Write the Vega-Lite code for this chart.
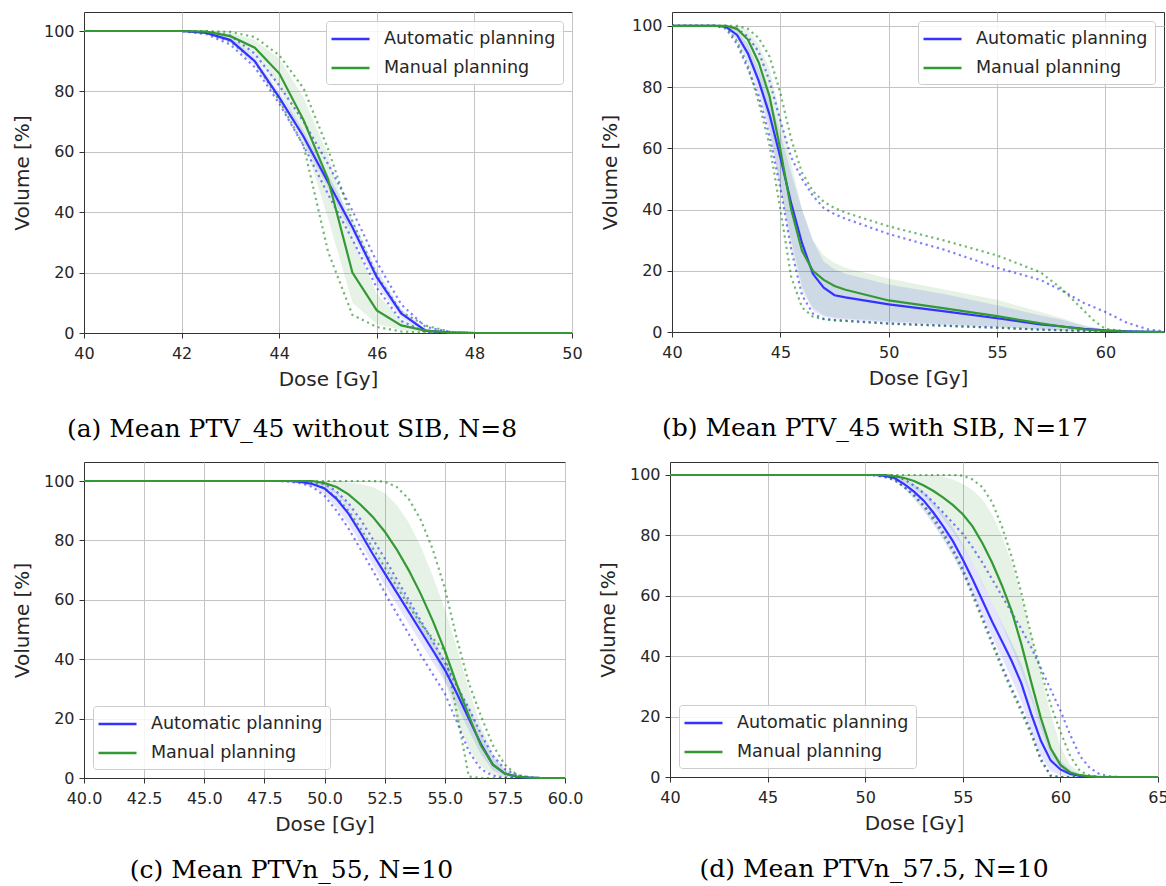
{
"$schema": "https://vega.github.io/schema/vega-lite/v6.json",
"usermeta": {"embedOptions": {"actions": false}},
"padding": {"left": 11, "top": 11, "right": 0, "bottom": 0},
"background": "white",
"spacing": 18,
"resolve": {"scale": {"color": "independent"}},
"datasets": {
"a": [
{"d":40,"p":"Automatic planning","m":100,"lo":100,"hi":100,"mn":100,"mx":100},
{"d":42,"p":"Automatic planning","m":100,"lo":100,"hi":100,"mn":100,"mx":100},
{"d":42.5,"p":"Automatic planning","m":99.4,"lo":99,"hi":99.8,"mn":99,"mx":99.8},
{"d":43,"p":"Automatic planning","m":97,"lo":96,"hi":98,"mn":95.5,"mx":98.5},
{"d":43.5,"p":"Automatic planning","m":90,"lo":88.5,"hi":91.5,"mn":88,"mx":92.5},
{"d":44,"p":"Automatic planning","m":78,"lo":76.5,"hi":80,"mn":76,"mx":82},
{"d":44.5,"p":"Automatic planning","m":65,"lo":63,"hi":67,"mn":62,"mx":70},
{"d":45,"p":"Automatic planning","m":50,"lo":48,"hi":52.5,"mn":46,"mx":56},
{"d":45.5,"p":"Automatic planning","m":35,"lo":32.5,"hi":37.5,"mn":31,"mx":40.5},
{"d":46,"p":"Automatic planning","m":18.5,"lo":16,"hi":21,"mn":15,"mx":23.5},
{"d":46.5,"p":"Automatic planning","m":6.5,"lo":5,"hi":8,"mn":4,"mx":9.5},
{"d":47,"p":"Automatic planning","m":0.8,"lo":0.5,"hi":1.2,"mn":0.3,"mx":2},
{"d":47.5,"p":"Automatic planning","m":0.1,"lo":0,"hi":0.2,"mn":0,"mx":0.4},
{"d":48,"p":"Automatic planning","m":0,"lo":0,"hi":0,"mn":0,"mx":0},
{"d":50,"p":"Automatic planning","m":0,"lo":0,"hi":0,"mn":0,"mx":0},
{"d":40,"p":"Manual planning","m":100,"lo":100,"hi":100,"mn":100,"mx":100},
{"d":42,"p":"Manual planning","m":100,"lo":100,"hi":100,"mn":100,"mx":100},
{"d":42.5,"p":"Manual planning","m":99.8,"lo":99.5,"hi":100,"mn":99.5,"mx":100},
{"d":43,"p":"Manual planning","m":98.3,"lo":97,"hi":99.5,"mn":96.5,"mx":99.7},
{"d":43.5,"p":"Manual planning","m":94.5,"lo":91.5,"hi":97,"mn":90,"mx":98},
{"d":44,"p":"Manual planning","m":86,"lo":81,"hi":91,"mn":77,"mx":92},
{"d":44.5,"p":"Manual planning","m":70.5,"lo":64,"hi":78,"mn":62,"mx":81},
{"d":45,"p":"Manual planning","m":51,"lo":38,"hi":59,"mn":27,"mx":61},
{"d":45.5,"p":"Manual planning","m":20,"lo":10,"hi":32,"mn":6,"mx":37},
{"d":46,"p":"Manual planning","m":7.5,"lo":3,"hi":13,"mn":2,"mx":19},
{"d":46.5,"p":"Manual planning","m":2.5,"lo":1,"hi":4.5,"mn":0.5,"mx":7},
{"d":47,"p":"Manual planning","m":0.8,"lo":0.2,"hi":1.5,"mn":0.1,"mx":2.5},
{"d":47.5,"p":"Manual planning","m":0.1,"lo":0,"hi":0.3,"mn":0,"mx":0.4},
{"d":48,"p":"Manual planning","m":0,"lo":0,"hi":0,"mn":0,"mx":0},
{"d":50,"p":"Manual planning","m":0,"lo":0,"hi":0,"mn":0,"mx":0}
],
"b": [
{"d":40,"p":"Automatic planning","m":100,"lo":100,"hi":100,"mn":100,"mx":100},
{"d":42,"p":"Automatic planning","m":100,"lo":100,"hi":100,"mn":100,"mx":100},
{"d":42.5,"p":"Automatic planning","m":99.6,"lo":99.3,"hi":100,"mn":99,"mx":100},
{"d":43,"p":"Automatic planning","m":97,"lo":95,"hi":98.5,"mn":94,"mx":99},
{"d":43.5,"p":"Automatic planning","m":91,"lo":88,"hi":94,"mn":86,"mx":96.5},
{"d":44,"p":"Automatic planning","m":82,"lo":78,"hi":86,"mn":77,"mx":91.5},
{"d":44.5,"p":"Automatic planning","m":71,"lo":65,"hi":77,"mn":64,"mx":82},
{"d":45,"p":"Automatic planning","m":57,"lo":47,"hi":65,"mn":47,"mx":69},
{"d":45.5,"p":"Automatic planning","m":42,"lo":30,"hi":52,"mn":27,"mx":57},
{"d":46,"p":"Automatic planning","m":29,"lo":15,"hi":40,"mn":12,"mx":50},
{"d":46.5,"p":"Automatic planning","m":19,"lo":7,"hi":30,"mn":6,"mx":44.5},
{"d":47,"p":"Automatic planning","m":14.5,"lo":5,"hi":23,"mn":4.3,"mx":40.5},
{"d":47.5,"p":"Automatic planning","m":12,"lo":4.3,"hi":20.5,"mn":3.9,"mx":38.5},
{"d":48,"p":"Automatic planning","m":11.3,"lo":4,"hi":19,"mn":3.7,"mx":37},
{"d":50,"p":"Automatic planning","m":9,"lo":3,"hi":15.5,"mn":2.8,"mx":32},
{"d":52.5,"p":"Automatic planning","m":6.8,"lo":2.2,"hi":12.5,"mn":2.1,"mx":27},
{"d":55,"p":"Automatic planning","m":4.5,"lo":1.5,"hi":8.7,"mn":1.4,"mx":21},
{"d":57,"p":"Automatic planning","m":2.5,"lo":0.8,"hi":5.5,"mn":0.8,"mx":17},
{"d":58,"p":"Automatic planning","m":1.8,"lo":0.5,"hi":4,"mn":0.6,"mx":13.5},
{"d":59,"p":"Automatic planning","m":1,"lo":0.3,"hi":2,"mn":0.4,"mx":9.5},
{"d":60,"p":"Automatic planning","m":0.5,"lo":0.1,"hi":0.8,"mn":0.2,"mx":6.5},
{"d":61,"p":"Automatic planning","m":0.2,"lo":0,"hi":0.3,"mn":0.1,"mx":3},
{"d":62,"p":"Automatic planning","m":0.05,"lo":0,"hi":0.1,"mn":0,"mx":0.8},
{"d":62.7,"p":"Automatic planning","m":0,"lo":0,"hi":0,"mn":0,"mx":0.2},
{"d":40,"p":"Manual planning","m":100,"lo":100,"hi":100,"mn":100,"mx":100},
{"d":42,"p":"Manual planning","m":100,"lo":100,"hi":100,"mn":100,"mx":100},
{"d":42.5,"p":"Manual planning","m":100,"lo":99.7,"hi":100,"mn":99.5,"mx":100},
{"d":43,"p":"Manual planning","m":99,"lo":97.5,"hi":100,"mn":95,"mx":100},
{"d":43.5,"p":"Manual planning","m":95.5,"lo":92,"hi":98.5,"mn":87,"mx":99},
{"d":44,"p":"Manual planning","m":88,"lo":81,"hi":94,"mn":75,"mx":96},
{"d":44.5,"p":"Manual planning","m":77,"lo":67,"hi":86,"mn":61,"mx":90},
{"d":45,"p":"Manual planning","m":59.5,"lo":47,"hi":71,"mn":40,"mx":78},
{"d":45.5,"p":"Manual planning","m":40,"lo":27,"hi":55,"mn":18,"mx":63},
{"d":46,"p":"Manual planning","m":26.5,"lo":13,"hi":40,"mn":8,"mx":52},
{"d":46.5,"p":"Manual planning","m":20,"lo":8,"hi":30,"mn":5,"mx":46},
{"d":47,"p":"Manual planning","m":17,"lo":5.5,"hi":25,"mn":4.2,"mx":42.5},
{"d":47.5,"p":"Manual planning","m":15,"lo":4.7,"hi":22.5,"mn":3.8,"mx":40.5},
{"d":48,"p":"Manual planning","m":13.8,"lo":4.4,"hi":21,"mn":3.6,"mx":39},
{"d":50,"p":"Manual planning","m":10.3,"lo":3.5,"hi":17.5,"mn":2.7,"mx":34.5},
{"d":52.5,"p":"Manual planning","m":7.8,"lo":2.6,"hi":14,"mn":2,"mx":30},
{"d":55,"p":"Manual planning","m":5.2,"lo":1.8,"hi":10.5,"mn":1.4,"mx":25},
{"d":57,"p":"Manual planning","m":2.8,"lo":0.8,"hi":6.5,"mn":0.7,"mx":19.5},
{"d":58,"p":"Manual planning","m":1.8,"lo":0.5,"hi":4.5,"mn":0.5,"mx":14},
{"d":59,"p":"Manual planning","m":0.9,"lo":0.2,"hi":2.3,"mn":0.3,"mx":7},
{"d":59.5,"p":"Manual planning","m":0.6,"lo":0.1,"hi":1.5,"mn":0.2,"mx":3.5},
{"d":60,"p":"Manual planning","m":0.4,"lo":0.1,"hi":0.8,"mn":0.1,"mx":1},
{"d":61,"p":"Manual planning","m":0.1,"lo":0,"hi":0.2,"mn":0,"mx":0.2},
{"d":62.7,"p":"Manual planning","m":0,"lo":0,"hi":0,"mn":0,"mx":0}
],
"c": [
{"d":40,"p":"Automatic planning","m":100,"lo":100,"hi":100,"mn":100,"mx":100},
{"d":48,"p":"Automatic planning","m":100,"lo":100,"hi":100,"mn":100,"mx":100},
{"d":48.5,"p":"Automatic planning","m":100,"lo":100,"hi":100,"mn":99.8,"mx":100},
{"d":49,"p":"Automatic planning","m":99.7,"lo":99.3,"hi":100,"mn":99.3,"mx":100},
{"d":49.5,"p":"Automatic planning","m":99,"lo":98,"hi":99.8,"mn":98,"mx":99.8},
{"d":50,"p":"Automatic planning","m":97.5,"lo":95.5,"hi":99,"mn":95,"mx":99},
{"d":50.5,"p":"Automatic planning","m":94,"lo":91,"hi":96.5,"mn":90,"mx":96.5},
{"d":51,"p":"Automatic planning","m":89,"lo":85.5,"hi":92,"mn":84,"mx":92.5},
{"d":51.5,"p":"Automatic planning","m":82.5,"lo":79,"hi":86,"mn":77,"mx":87},
{"d":52,"p":"Automatic planning","m":75.5,"lo":72,"hi":79,"mn":70,"mx":80.5},
{"d":52.5,"p":"Automatic planning","m":69,"lo":65,"hi":72.5,"mn":62.5,"mx":74},
{"d":53,"p":"Automatic planning","m":62.5,"lo":58.5,"hi":66,"mn":55.5,"mx":67},
{"d":53.5,"p":"Automatic planning","m":56,"lo":52,"hi":59.5,"mn":48.5,"mx":60},
{"d":54,"p":"Automatic planning","m":49.5,"lo":45.5,"hi":53,"mn":41.5,"mx":53},
{"d":54.5,"p":"Automatic planning","m":43,"lo":39,"hi":46.5,"mn":35,"mx":46},
{"d":55,"p":"Automatic planning","m":36.5,"lo":32.5,"hi":40,"mn":28.5,"mx":39},
{"d":55.5,"p":"Automatic planning","m":28.5,"lo":24.5,"hi":32,"mn":19,"mx":31},
{"d":56,"p":"Automatic planning","m":20,"lo":16,"hi":24,"mn":9,"mx":23.5},
{"d":56.5,"p":"Automatic planning","m":11.5,"lo":8,"hi":15,"mn":3,"mx":15},
{"d":57,"p":"Automatic planning","m":4.5,"lo":2.5,"hi":7,"mn":0.8,"mx":7.5},
{"d":57.5,"p":"Automatic planning","m":1.5,"lo":0.6,"hi":2.5,"mn":0.2,"mx":3},
{"d":58,"p":"Automatic planning","m":0.4,"lo":0.1,"hi":0.8,"mn":0,"mx":1},
{"d":58.5,"p":"Automatic planning","m":0.1,"lo":0,"hi":0.2,"mn":0,"mx":0.3},
{"d":59,"p":"Automatic planning","m":0,"lo":0,"hi":0,"mn":0,"mx":0},
{"d":60,"p":"Automatic planning","m":0,"lo":0,"hi":0,"mn":0,"mx":0},
{"d":40,"p":"Manual planning","m":100,"lo":100,"hi":100,"mn":100,"mx":100},
{"d":49,"p":"Manual planning","m":100,"lo":100,"hi":100,"mn":100,"mx":100},
{"d":49.5,"p":"Manual planning","m":100,"lo":99.7,"hi":100,"mn":99.5,"mx":100},
{"d":50,"p":"Manual planning","m":99.3,"lo":98,"hi":100,"mn":97.5,"mx":100},
{"d":50.5,"p":"Manual planning","m":98,"lo":95.5,"hi":100,"mn":94.5,"mx":100},
{"d":51,"p":"Manual planning","m":95.5,"lo":91.5,"hi":99.5,"mn":90,"mx":100},
{"d":51.5,"p":"Manual planning","m":92,"lo":86,"hi":99,"mn":84,"mx":100},
{"d":52,"p":"Manual planning","m":88,"lo":79.5,"hi":98,"mn":77.5,"mx":100},
{"d":52.5,"p":"Manual planning","m":83,"lo":72,"hi":96,"mn":71,"mx":99.8},
{"d":53,"p":"Manual planning","m":77,"lo":65,"hi":92,"mn":64.5,"mx":98},
{"d":53.5,"p":"Manual planning","m":70,"lo":58,"hi":86,"mn":58,"mx":94},
{"d":54,"p":"Manual planning","m":62,"lo":50,"hi":78,"mn":52,"mx":87},
{"d":54.5,"p":"Manual planning","m":53,"lo":43,"hi":68,"mn":47,"mx":77},
{"d":55,"p":"Manual planning","m":43,"lo":33,"hi":57,"mn":43,"mx":64},
{"d":55.5,"p":"Manual planning","m":31.5,"lo":20,"hi":44,"mn":22,"mx":47},
{"d":56,"p":"Manual planning","m":21,"lo":10,"hi":30,"mn":0.5,"mx":32},
{"d":56.5,"p":"Manual planning","m":11,"lo":4,"hi":17.5,"mn":0,"mx":21},
{"d":57,"p":"Manual planning","m":4.5,"lo":1,"hi":8.5,"mn":0,"mx":11},
{"d":57.5,"p":"Manual planning","m":1.5,"lo":0.2,"hi":3,"mn":0,"mx":4.5},
{"d":58,"p":"Manual planning","m":0.5,"lo":0,"hi":1,"mn":0,"mx":1},
{"d":58.5,"p":"Manual planning","m":0.1,"lo":0,"hi":0.2,"mn":0,"mx":0.2},
{"d":59,"p":"Manual planning","m":0,"lo":0,"hi":0,"mn":0,"mx":0},
{"d":60,"p":"Manual planning","m":0,"lo":0,"hi":0,"mn":0,"mx":0}
],
"dd": [
{"d":40,"p":"Automatic planning","m":100,"lo":100,"hi":100,"mn":100,"mx":100},
{"d":50,"p":"Automatic planning","m":100,"lo":100,"hi":100,"mn":100,"mx":100},
{"d":50.5,"p":"Automatic planning","m":100,"lo":99.8,"hi":100,"mn":99.8,"mx":100},
{"d":51,"p":"Automatic planning","m":99.7,"lo":99.2,"hi":100,"mn":99.3,"mx":100},
{"d":51.5,"p":"Automatic planning","m":99,"lo":98,"hi":99.8,"mn":98.3,"mx":99.7},
{"d":52,"p":"Automatic planning","m":97,"lo":95.5,"hi":98.5,"mn":96,"mx":98.5},
{"d":52.5,"p":"Automatic planning","m":94.5,"lo":92,"hi":97,"mn":93.5,"mx":96.5},
{"d":53,"p":"Automatic planning","m":91.5,"lo":88,"hi":94.5,"mn":90,"mx":94},
{"d":53.5,"p":"Automatic planning","m":87.5,"lo":83.5,"hi":91,"mn":86,"mx":91},
{"d":54,"p":"Automatic planning","m":83,"lo":78.5,"hi":87,"mn":81,"mx":87.5},
{"d":54.5,"p":"Automatic planning","m":78,"lo":73,"hi":82.5,"mn":75.5,"mx":84},
{"d":55,"p":"Automatic planning","m":72,"lo":67,"hi":77,"mn":69,"mx":80.5},
{"d":55.5,"p":"Automatic planning","m":65.5,"lo":60.5,"hi":71,"mn":61,"mx":76},
{"d":56,"p":"Automatic planning","m":58.5,"lo":53.5,"hi":64.5,"mn":53,"mx":71},
{"d":56.5,"p":"Automatic planning","m":51.5,"lo":46.5,"hi":57.5,"mn":45,"mx":65.5},
{"d":57,"p":"Automatic planning","m":45,"lo":39.5,"hi":51,"mn":37,"mx":60},
{"d":57.5,"p":"Automatic planning","m":38.5,"lo":32.5,"hi":44.5,"mn":29.5,"mx":54.5},
{"d":58,"p":"Automatic planning","m":31,"lo":25,"hi":37.5,"mn":22.5,"mx":49},
{"d":58.5,"p":"Automatic planning","m":21,"lo":15,"hi":28,"mn":15,"mx":43},
{"d":59,"p":"Automatic planning","m":12,"lo":7,"hi":18,"mn":6,"mx":36},
{"d":59.5,"p":"Automatic planning","m":5.5,"lo":2,"hi":10,"mn":0.5,"mx":29},
{"d":60,"p":"Automatic planning","m":2.5,"lo":0.5,"hi":5.5,"mn":0,"mx":22},
{"d":60.5,"p":"Automatic planning","m":1,"lo":0.1,"hi":2.5,"mn":0,"mx":14},
{"d":61,"p":"Automatic planning","m":0.4,"lo":0,"hi":1,"mn":0,"mx":7},
{"d":61.5,"p":"Automatic planning","m":0.1,"lo":0,"hi":0.3,"mn":0,"mx":3},
{"d":62,"p":"Automatic planning","m":0,"lo":0,"hi":0.1,"mn":0,"mx":1},
{"d":62.5,"p":"Automatic planning","m":0,"lo":0,"hi":0,"mn":0,"mx":0.3},
{"d":63,"p":"Automatic planning","m":0,"lo":0,"hi":0,"mn":0,"mx":0},
{"d":65,"p":"Automatic planning","m":0,"lo":0,"hi":0,"mn":0,"mx":0},
{"d":40,"p":"Manual planning","m":100,"lo":100,"hi":100,"mn":100,"mx":100},
{"d":50.5,"p":"Manual planning","m":100,"lo":100,"hi":100,"mn":100,"mx":100},
{"d":51,"p":"Manual planning","m":100,"lo":99.8,"hi":100,"mn":99.5,"mx":100},
{"d":51.5,"p":"Manual planning","m":99.6,"lo":99,"hi":100,"mn":98.5,"mx":100},
{"d":52,"p":"Manual planning","m":99,"lo":97.5,"hi":100,"mn":96,"mx":100},
{"d":52.5,"p":"Manual planning","m":98,"lo":95.5,"hi":100,"mn":93,"mx":100},
{"d":53,"p":"Manual planning","m":96.5,"lo":93,"hi":100,"mn":89.5,"mx":100},
{"d":53.5,"p":"Manual planning","m":94.7,"lo":89.5,"hi":99.8,"mn":85,"mx":100},
{"d":54,"p":"Manual planning","m":92.5,"lo":85.5,"hi":99.5,"mn":80,"mx":100},
{"d":54.5,"p":"Manual planning","m":90,"lo":81,"hi":98.5,"mn":74.5,"mx":100},
{"d":55,"p":"Manual planning","m":87,"lo":76.5,"hi":97,"mn":68,"mx":99.8},
{"d":55.5,"p":"Manual planning","m":83,"lo":71,"hi":95,"mn":60,"mx":98.5},
{"d":56,"p":"Manual planning","m":77.5,"lo":64,"hi":92,"mn":52,"mx":96},
{"d":56.5,"p":"Manual planning","m":71,"lo":57.5,"hi":87,"mn":44,"mx":91},
{"d":57,"p":"Manual planning","m":63.5,"lo":50.5,"hi":80,"mn":36,"mx":83},
{"d":57.5,"p":"Manual planning","m":55,"lo":43,"hi":71,"mn":28.5,"mx":73},
{"d":58,"p":"Manual planning","m":44,"lo":35,"hi":60,"mn":21.5,"mx":61},
{"d":58.5,"p":"Manual planning","m":31.5,"lo":26,"hi":47,"mn":14,"mx":47},
{"d":59,"p":"Manual planning","m":19.5,"lo":16,"hi":34,"mn":5.5,"mx":35},
{"d":59.5,"p":"Manual planning","m":9.5,"lo":7,"hi":21,"mn":0.3,"mx":24},
{"d":60,"p":"Manual planning","m":4,"lo":2.5,"hi":10,"mn":0,"mx":15},
{"d":60.5,"p":"Manual planning","m":1.5,"lo":0.8,"hi":4,"mn":0,"mx":7},
{"d":61,"p":"Manual planning","m":0.6,"lo":0.2,"hi":1.5,"mn":0,"mx":2},
{"d":61.5,"p":"Manual planning","m":0.2,"lo":0,"hi":0.5,"mn":0,"mx":0.5},
{"d":62,"p":"Manual planning","m":0,"lo":0,"hi":0.1,"mn":0,"mx":0.1},
{"d":63,"p":"Manual planning","m":0,"lo":0,"hi":0,"mn":0,"mx":0},
{"d":65,"p":"Manual planning","m":0,"lo":0,"hi":0,"mn":0,"mx":0}
]
},
"vconcat": [
{"hconcat": [
{"width": 488, "height": 321, "data": {"name": "a"},
 "title": {"text": "(a) Mean PTV_45 without SIB, N=8", "dx": -36, "offset": 28},
 "encoding": {"x": {"field": "d", "type": "quantitative", "title": "Dose [Gy]", "scale": {"domain": [40, 50], "nice": false, "zero": false}, "axis": {"values": [40, 42, 44, 46, 48, 50]}}},
 "layer": [
  {"transform": [{"filter": {"field": "p", "equal": "Automatic planning"}}], "mark": {"type": "area", "color": "#0000ff", "fillOpacity": 0.1, "strokeWidth": 0}, "encoding": {"y": {"field": "lo", "type": "quantitative", "title": "Volume [%]", "scale": {"domain": [0, 106.3], "nice": false, "zero": false}}, "y2": {"field": "hi"}}},
  {"transform": [{"filter": {"field": "p", "equal": "Manual planning"}}], "mark": {"type": "area", "color": "#008000", "fillOpacity": 0.1, "strokeWidth": 0}, "encoding": {"y": {"field": "lo", "type": "quantitative", "title": "Volume [%]"}, "y2": {"field": "hi"}}},
  {"transform": [{"filter": {"field": "p", "equal": "Automatic planning"}}, {"fold": ["mn", "mx"], "as": ["k", "v"]}], "mark": {"type": "line", "color": "#0000ff", "strokeDash": [2.2, 3.6], "strokeWidth": 2.2, "opacity": 0.5}, "encoding": {"y": {"field": "v", "type": "quantitative", "title": "Volume [%]"}, "detail": {"field": "k", "type": "nominal"}}},
  {"transform": [{"filter": {"field": "p", "equal": "Manual planning"}}, {"fold": ["mn", "mx"], "as": ["k", "v"]}], "mark": {"type": "line", "color": "#008000", "strokeDash": [2.2, 3.6], "strokeWidth": 2.2, "opacity": 0.55}, "encoding": {"y": {"field": "v", "type": "quantitative", "title": "Volume [%]"}, "detail": {"field": "k", "type": "nominal"}}},
  {"mark": {"type": "line", "strokeWidth": 2.2}, "encoding": {"y": {"field": "m", "type": "quantitative", "title": "Volume [%]"}, "color": {"field": "p", "type": "nominal", "scale": {"domain": ["Automatic planning", "Manual planning"], "range": ["#3333ff", "#339933"]}, "legend": {"title": null, "orient": "top-right"}}}}
 ]},
{"width": 492, "height": 320, "data": {"name": "b"},
 "title": {"text": "(b) Mean PTV_45 with SIB, N=17", "dx": -43, "offset": 28},
 "encoding": {"x": {"field": "d", "type": "quantitative", "title": "Dose [Gy]", "scale": {"domain": [40, 62.7], "nice": false, "zero": false}, "axis": {"values": [40, 45, 50, 55, 60]}}},
 "layer": [
  {"transform": [{"filter": {"field": "p", "equal": "Automatic planning"}}], "mark": {"type": "area", "color": "#0000ff", "fillOpacity": 0.1, "strokeWidth": 0}, "encoding": {"y": {"field": "lo", "type": "quantitative", "title": "Volume [%]", "scale": {"domain": [0, 104.5], "nice": false, "zero": false}}, "y2": {"field": "hi"}}},
  {"transform": [{"filter": {"field": "p", "equal": "Manual planning"}}], "mark": {"type": "area", "color": "#008000", "fillOpacity": 0.1, "strokeWidth": 0}, "encoding": {"y": {"field": "lo", "type": "quantitative", "title": "Volume [%]"}, "y2": {"field": "hi"}}},
  {"transform": [{"filter": {"field": "p", "equal": "Automatic planning"}}, {"fold": ["mn", "mx"], "as": ["k", "v"]}], "mark": {"type": "line", "color": "#0000ff", "strokeDash": [2.2, 3.6], "strokeWidth": 2.2, "opacity": 0.5}, "encoding": {"y": {"field": "v", "type": "quantitative", "title": "Volume [%]"}, "detail": {"field": "k", "type": "nominal"}}},
  {"transform": [{"filter": {"field": "p", "equal": "Manual planning"}}, {"fold": ["mn", "mx"], "as": ["k", "v"]}], "mark": {"type": "line", "color": "#008000", "strokeDash": [2.2, 3.6], "strokeWidth": 2.2, "opacity": 0.55}, "encoding": {"y": {"field": "v", "type": "quantitative", "title": "Volume [%]"}, "detail": {"field": "k", "type": "nominal"}}},
  {"mark": {"type": "line", "strokeWidth": 2.2}, "encoding": {"y": {"field": "m", "type": "quantitative", "title": "Volume [%]"}, "color": {"field": "p", "type": "nominal", "scale": {"domain": ["Automatic planning", "Manual planning"], "range": ["#3333ff", "#339933"]}, "legend": {"title": null, "orient": "top-right"}}}}
 ]}
], "spacing": 100, "bounds": "flush", "resolve": {"scale": {"color": "independent"}}},
{"hconcat": [
{"width": 481, "height": 316, "data": {"name": "c"},
 "title": {"text": "(c) Mean PTVn_55, N=10", "dx": -33, "offset": 24},
 "encoding": {"x": {"field": "d", "type": "quantitative", "title": "Dose [Gy]", "scale": {"domain": [40, 60], "nice": false, "zero": false}, "axis": {"values": [40, 42.5, 45, 47.5, 50, 52.5, 55, 57.5, 60], "format": ".1f"}}},
 "layer": [
  {"transform": [{"filter": {"field": "p", "equal": "Automatic planning"}}], "mark": {"type": "area", "color": "#0000ff", "fillOpacity": 0.1, "strokeWidth": 0}, "encoding": {"y": {"field": "lo", "type": "quantitative", "title": "Volume [%]", "scale": {"domain": [0, 106.4], "nice": false, "zero": false}}, "y2": {"field": "hi"}}},
  {"transform": [{"filter": {"field": "p", "equal": "Manual planning"}}], "mark": {"type": "area", "color": "#008000", "fillOpacity": 0.1, "strokeWidth": 0}, "encoding": {"y": {"field": "lo", "type": "quantitative", "title": "Volume [%]"}, "y2": {"field": "hi"}}},
  {"transform": [{"filter": {"field": "p", "equal": "Automatic planning"}}, {"fold": ["mn", "mx"], "as": ["k", "v"]}], "mark": {"type": "line", "color": "#0000ff", "strokeDash": [2.2, 3.6], "strokeWidth": 2.2, "opacity": 0.5}, "encoding": {"y": {"field": "v", "type": "quantitative", "title": "Volume [%]"}, "detail": {"field": "k", "type": "nominal"}}},
  {"transform": [{"filter": {"field": "p", "equal": "Manual planning"}}, {"fold": ["mn", "mx"], "as": ["k", "v"]}], "mark": {"type": "line", "color": "#008000", "strokeDash": [2.2, 3.6], "strokeWidth": 2.2, "opacity": 0.55}, "encoding": {"y": {"field": "v", "type": "quantitative", "title": "Volume [%]"}, "detail": {"field": "k", "type": "nominal"}}},
  {"mark": {"type": "line", "strokeWidth": 2.2}, "encoding": {"y": {"field": "m", "type": "quantitative", "title": "Volume [%]"}, "color": {"field": "p", "type": "nominal", "scale": {"domain": ["Automatic planning", "Manual planning"], "range": ["#3333ff", "#339933"]}, "legend": {"title": null, "orient": "bottom-left"}}}}
 ]},
{"width": 488, "height": 315, "data": {"name": "dd"},
 "title": {"text": "(d) Mean PTVn_57.5, N=10", "dx": -40, "offset": 24},
 "encoding": {"x": {"field": "d", "type": "quantitative", "title": "Dose [Gy]", "scale": {"domain": [40, 65], "nice": false, "zero": false}, "axis": {"values": [40, 45, 50, 55, 60, 65]}}},
 "layer": [
  {"transform": [{"filter": {"field": "p", "equal": "Automatic planning"}}], "mark": {"type": "area", "color": "#0000ff", "fillOpacity": 0.1, "strokeWidth": 0}, "encoding": {"y": {"field": "lo", "type": "quantitative", "title": "Volume [%]", "scale": {"domain": [0, 104.3], "nice": false, "zero": false}}, "y2": {"field": "hi"}}},
  {"transform": [{"filter": {"field": "p", "equal": "Manual planning"}}], "mark": {"type": "area", "color": "#008000", "fillOpacity": 0.1, "strokeWidth": 0}, "encoding": {"y": {"field": "lo", "type": "quantitative", "title": "Volume [%]"}, "y2": {"field": "hi"}}},
  {"transform": [{"filter": {"field": "p", "equal": "Automatic planning"}}, {"fold": ["mn", "mx"], "as": ["k", "v"]}], "mark": {"type": "line", "color": "#0000ff", "strokeDash": [2.2, 3.6], "strokeWidth": 2.2, "opacity": 0.5}, "encoding": {"y": {"field": "v", "type": "quantitative", "title": "Volume [%]"}, "detail": {"field": "k", "type": "nominal"}}},
  {"transform": [{"filter": {"field": "p", "equal": "Manual planning"}}, {"fold": ["mn", "mx"], "as": ["k", "v"]}], "mark": {"type": "line", "color": "#008000", "strokeDash": [2.2, 3.6], "strokeWidth": 2.2, "opacity": 0.55}, "encoding": {"y": {"field": "v", "type": "quantitative", "title": "Volume [%]"}, "detail": {"field": "k", "type": "nominal"}}},
  {"mark": {"type": "line", "strokeWidth": 2.2}, "encoding": {"y": {"field": "m", "type": "quantitative", "title": "Volume [%]"}, "color": {"field": "p", "type": "nominal", "scale": {"domain": ["Automatic planning", "Manual planning"], "range": ["#3333ff", "#339933"]}, "legend": {"title": null, "orient": "bottom-left"}}}}
 ]}
], "spacing": 105, "bounds": "flush", "resolve": {"scale": {"color": "independent"}}}
],
"config": {
 "font": "DejaVu Sans",
 "view": {"stroke": "#333333", "strokeWidth": 1},
 "axis": {"grid": true, "gridColor": "#c4c4c4", "gridWidth": 1, "domainColor": "#333333", "tickColor": "#333333", "tickSize": 5, "labelFont": "DejaVu Sans", "labelFontSize": 16, "labelColor": "#262626", "titleFont": "DejaVu Sans", "titleFontSize": 20, "titleFontWeight": "normal", "titleColor": "#262626", "labelFlush": false, "labelOverlap": false},
 "axisX": {"labelPadding": 7, "titlePadding": 8},
 "axisY": {"labelPadding": 5, "titlePadding": 11, "tickCount": 6},
 "legend": {"fillColor": "rgba(255,255,255,0.85)", "strokeColor": "#cccccc", "cornerRadius": 3, "padding": 7, "offset": 9, "labelFont": "DejaVu Sans", "labelFontSize": 17.5, "labelColor": "#262626", "labelLimit": 400, "symbolType": "M-2,0H2", "symbolSize": 361, "symbolStrokeWidth": 2.5, "symbolOffset": 6.5, "labelOffset": 22.5, "rowPadding": 9},
 "title": {"orient": "bottom", "anchor": "middle", "font": "DejaVu Serif", "fontSize": 25, "fontWeight": "normal", "color": "#000000"}
}
}
